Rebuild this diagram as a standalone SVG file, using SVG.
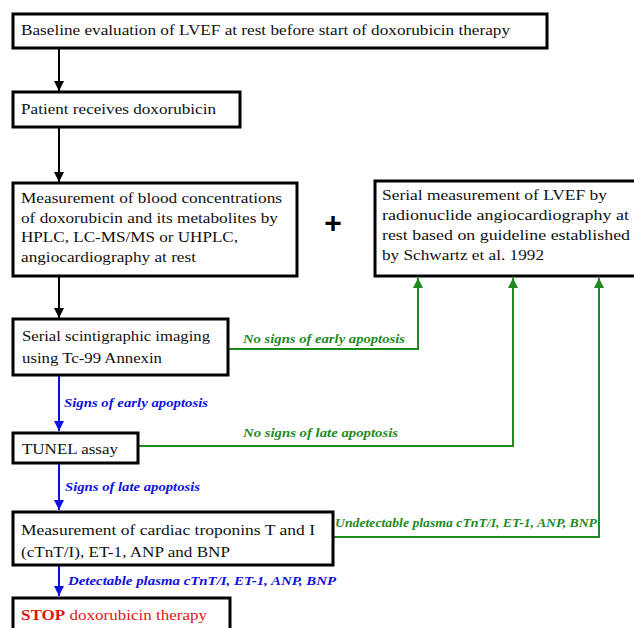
<svg xmlns="http://www.w3.org/2000/svg" width="634" height="628" viewBox="0 0 634 628">
<style>
.box{fill:#fff;stroke:#000;stroke-width:3}
text{font-family:"Times New Roman",Tinos,"Nimbus Roman","Liberation Serif","Noto Serif",serif}
.t{font-size:14.5px;fill:#111}
.lbl{font-size:12px;font-weight:bold;font-style:italic}
.g{fill:#1f8a1f}
.b{fill:#1010e0}
.k{fill:none;stroke:#000;stroke-width:2}
.gl{fill:none;stroke:#1f8a1f;stroke-width:2}
.bl{fill:none;stroke:#1010e0;stroke-width:2}
</style>
<defs>
<marker id="ak" viewBox="0 0 10 10" refX="10" refY="5" markerWidth="5" markerHeight="5" orient="auto" markerUnits="strokeWidth"><path d="M0,0 L10,5 L0,10 z" fill="#000"/></marker>
<marker id="ag" viewBox="0 0 10 10" refX="10" refY="5" markerWidth="5" markerHeight="5" orient="auto" markerUnits="strokeWidth"><path d="M0,0 L10,5 L0,10 z" fill="#1f8a1f"/></marker>
<marker id="ab" viewBox="0 0 10 10" refX="10" refY="5" markerWidth="5" markerHeight="5" orient="auto" markerUnits="strokeWidth"><path d="M0,0 L10,5 L0,10 z" fill="#1010e0"/></marker>
</defs>
<rect width="634" height="628" fill="#fff"/>
<g id="connectors">
<path class="k" d="M59,48 V91" marker-end="url(#ak)"/>
<path class="k" d="M59,127 V182" marker-end="url(#ak)"/>
<path class="k" d="M59,276 V318" marker-end="url(#ak)"/>
<path class="bl" d="M59,375 V431" marker-end="url(#ab)"/>
<path class="bl" d="M59,463 V510" marker-end="url(#ab)"/>
<path class="bl" d="M59,565 V596" marker-end="url(#ab)"/>
<path class="gl" d="M228,349 H418 V278" marker-end="url(#ag)"/>
<path class="gl" d="M138,446 H513 V278" marker-end="url(#ag)"/>
<path class="gl" d="M333,537 H599 V278" marker-end="url(#ag)"/>
<text class="lbl b" x="64" y="407" textLength="144" lengthAdjust="spacingAndGlyphs">Signs of early apoptosis</text>
<text class="lbl b" x="65" y="491" textLength="135" lengthAdjust="spacingAndGlyphs">Signs of late apoptosis</text>
<text class="lbl b" x="68" y="585" textLength="268" lengthAdjust="spacingAndGlyphs">Detectable plasma cTnT/I, ET-1, ANP, BNP</text>
<text class="lbl g" x="243" y="343" textLength="162" lengthAdjust="spacingAndGlyphs">No signs of early apoptosis</text>
<text class="lbl g" x="243" y="437" textLength="155" lengthAdjust="spacingAndGlyphs">No signs of late apoptosis</text>
<text class="lbl g" x="335" y="527" style="font-size:11.5px" textLength="262" lengthAdjust="spacingAndGlyphs">Undetectable plasma cTnT/I, ET-1, ANP, BNP</text>
</g>
<g id="baseline">
<rect class="box" x="13" y="14" width="534" height="34"/>
<text class="t" x="21" y="35" textLength="489" lengthAdjust="spacingAndGlyphs">Baseline evaluation of LVEF at rest before start of doxorubicin therapy</text>
</g>
<g id="patient">
<rect class="box" x="13" y="92" width="227" height="35"/>
<text class="t" x="21" y="114" textLength="195" lengthAdjust="spacingAndGlyphs">Patient receives doxorubicin</text>
</g>
<g id="blood">
<rect class="box" x="13" y="183" width="284" height="93"/>
<text class="t" x="21" y="203" textLength="261" lengthAdjust="spacingAndGlyphs">Measurement of blood concentrations</text>
<text class="t" x="21" y="223" textLength="257" lengthAdjust="spacingAndGlyphs">of doxorubicin and its metabolites by</text>
<text class="t" x="21" y="242" textLength="217" lengthAdjust="spacingAndGlyphs">HPLC, LC-MS/MS or UHPLC,</text>
<text class="t" x="21" y="262" textLength="175" lengthAdjust="spacingAndGlyphs">angiocardiography at rest</text>
</g>
<g id="plus">
<text x="333" y="233" text-anchor="middle" style="font-family:'Liberation Sans',Arial,sans-serif;font-size:30px;font-weight:bold" fill="#000">+</text>
</g>
<g id="lvef">
<rect class="box" x="375" y="181" width="270" height="95"/>
<text class="t" x="382" y="200" textLength="225" lengthAdjust="spacingAndGlyphs">Serial measurement of LVEF by</text>
<text class="t" x="382" y="220" textLength="247" lengthAdjust="spacingAndGlyphs">radionuclide angiocardiography at</text>
<text class="t" x="382" y="240" textLength="248" lengthAdjust="spacingAndGlyphs">rest based on guideline established</text>
<text class="t" x="382" y="260" textLength="162" lengthAdjust="spacingAndGlyphs">by Schwartz et al. 1992</text>
</g>
<g id="scinti">
<rect class="box" x="13" y="319" width="215" height="56"/>
<text class="t" x="22" y="341" textLength="188" lengthAdjust="spacingAndGlyphs">Serial scintigraphic imaging</text>
<text class="t" x="22" y="363" textLength="140" lengthAdjust="spacingAndGlyphs">using Tc-99 Annexin</text>
</g>
<g id="tunel">
<rect class="box" x="13" y="433" width="125" height="30"/>
<text class="t" x="22" y="454" textLength="96" lengthAdjust="spacingAndGlyphs">TUNEL assay</text>
</g>
<g id="troponins">
<rect class="box" x="13" y="512" width="320" height="53"/>
<text class="t" x="21" y="535" textLength="294" lengthAdjust="spacingAndGlyphs">Measurement of cardiac troponins T and I</text>
<text class="t" x="21" y="557" textLength="209" lengthAdjust="spacingAndGlyphs">(cTnT/I), ET-1, ANP and BNP</text>
</g>
<g id="stop">
<rect class="box" x="13" y="598" width="217" height="40"/>
<text class="t" x="21" y="620" style="fill:#e01515" textLength="186" lengthAdjust="spacingAndGlyphs"><tspan font-weight="bold">STOP</tspan> doxorubicin therapy</text>
</g>
</svg>
